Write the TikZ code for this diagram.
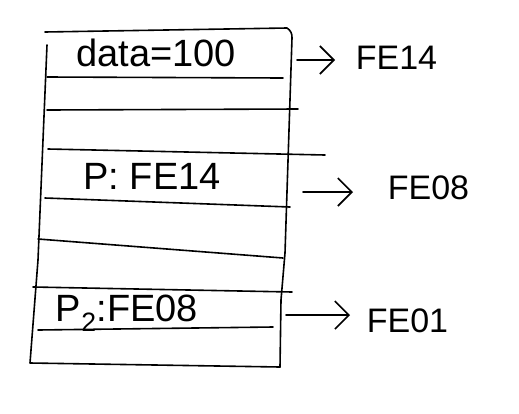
\documentclass[tikz,border=0pt]{standalone}
\usepackage{fontspec}
\setmainfont{Liberation Sans}
\usetikzlibrary{arrows.meta}

\begin{document}
\begin{tikzpicture}[x=1pt,y=-1pt,line width=1.6pt,line cap=round,line join=round,
        cell/.style={font=\fontsize{38}{42}\selectfont, inner sep=0pt},
        addr/.style={font=\fontsize{34}{38}\selectfont, inner sep=0pt, anchor=west},
        ptr/.style={-{Straight Barb[length=14pt,width=28pt,line width=1.6pt]}}]
        \useasboundingbox (0,0) rectangle (519,413);

        % Frame
        \draw (45,32) -- (287,28) to[bend left=30] (292,38) -- (285,253) -- (281,300) -- (280,367);
        \draw (47,45) -- (43,140) -- (38,260) -- (30,363) -- (280,367);

        % Rows
        \draw (47,77) -- (283,78);
        \draw (47,110) -- (298,109);
        \draw (48,149) -- (325,155);
        \draw (45,198) -- (290,207);
        \draw (38,239) -- (283,258);
        \draw (33,287) -- (292,292);
        \draw (38,330) -- (273,327);

        % Nodes
        \node[cell] (data) at (156,53) {data=100};
        \node[cell] (p) at (152,176) {P: FE14};
        \node[cell] (p2) at (127,313) {P\textsubscript{2}:FE08};

        \node[addr] (fe14) at (355,58) {FE14};
        \node[addr] (fe08) at (387,188) {FE08};
        \node[addr] (fe01) at (366,321) {FE01};

        \coordinate (a1) at (297,60);
        \coordinate (a2) at (303,192);
        \coordinate (a3) at (286,315);

        % Edges
        \draw[ptr, shorten >=20pt] (a1) -- (a1 -| fe14.west);
        \draw[ptr, shorten >=34pt] (a2) -- (a2 -| fe08.west);
        \draw[ptr, shorten >=16pt] (a3) -- (a3 -| fe01.west);
    \end{tikzpicture}
\end{document}
